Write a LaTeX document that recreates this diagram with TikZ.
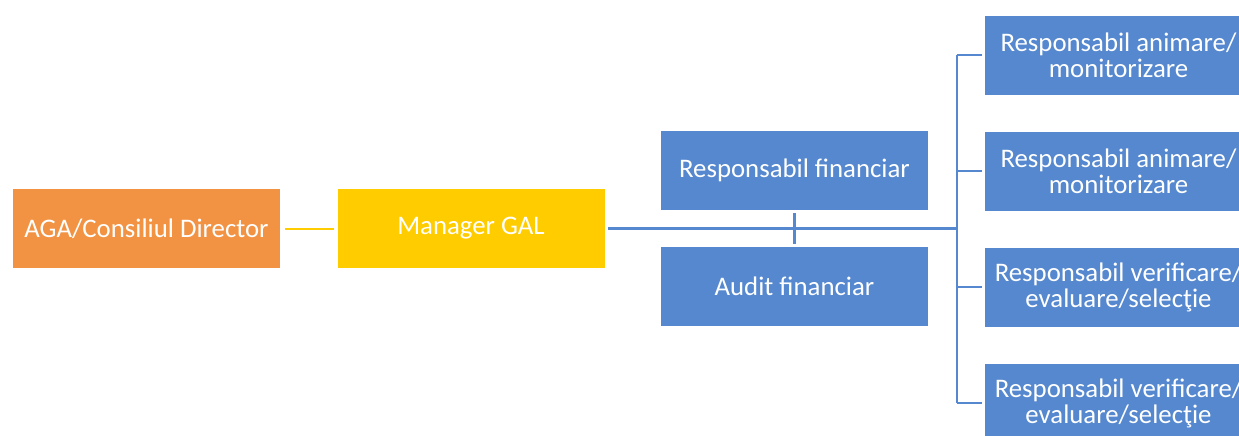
\documentclass[tikz,border=0pt]{standalone}
\usepackage{fontspec}
\setmainfont{Carlito}
\definecolor{orgbox}{RGB}{242,147,67}
\definecolor{galbox}{RGB}{255,204,0}
\definecolor{staffbox}{RGB}{85,136,207}
\tikzset{
  orgnode/.style={rectangle, minimum width=133.5pt, minimum height=39.5pt,
    inner sep=0pt, text=white, font=\fontsize{13.4}{13}\selectfont, align=center},
  link/.style={staffbox, line width=1.5pt},
}
\begin{document}
\begin{tikzpicture}[x=0.5pt, y=-0.5pt]
    \useasboundingbox (0,0) rectangle (1239,435);

    % Draw the left part
    \node[orgnode, fill=orgbox] (aga) at (146.5,228.5) {AGA/Consiliul Director};
    \node[orgnode, fill=galbox] (manager) at (471,228.5) {Manager GAL};
    \draw[galbox, line width=1pt, shorten <=2.5pt, shorten >=1.5pt] (aga.east) -- (manager.west);

    % Financial boxes
    \node[orgnode, fill=staffbox] (respfin) at (794.5,170.5) {Responsabil financiar};
    \node[orgnode, fill=staffbox] (audit) at (794.5,286.5) {Audit financiar};

    % Main line and bus
    \coordinate (bus) at (957,228.5);
    \draw[link, shorten <=1.5pt] (manager.east) -- (bus);
    \draw[link, shorten <=1.5pt, shorten >=1.5pt] (respfin.south) -- (audit.north);

    % Staff boxes on the right
    \foreach \i/\y/\txt in {1/55/{Responsabil animare/\\monitorizare},
                            2/171/{Responsabil animare/\\monitorizare},
                            3/287/{Responsabil verificare/\\evaluare/selecţie},
                            4/403/{Responsabil verificare/\\evaluare/selecţie}} {
        \node[orgnode, fill=staffbox] (r\i) at (1118.5,\y) {\txt};
        \draw[link, line width=1.1pt, shorten >=1.5pt] (bus |- r\i.west) -- (r\i.west);
    }
    \draw[link, line width=1.1pt] (bus |- r1.west) -- (bus |- r4.west);

\end{tikzpicture}
\end{document}
